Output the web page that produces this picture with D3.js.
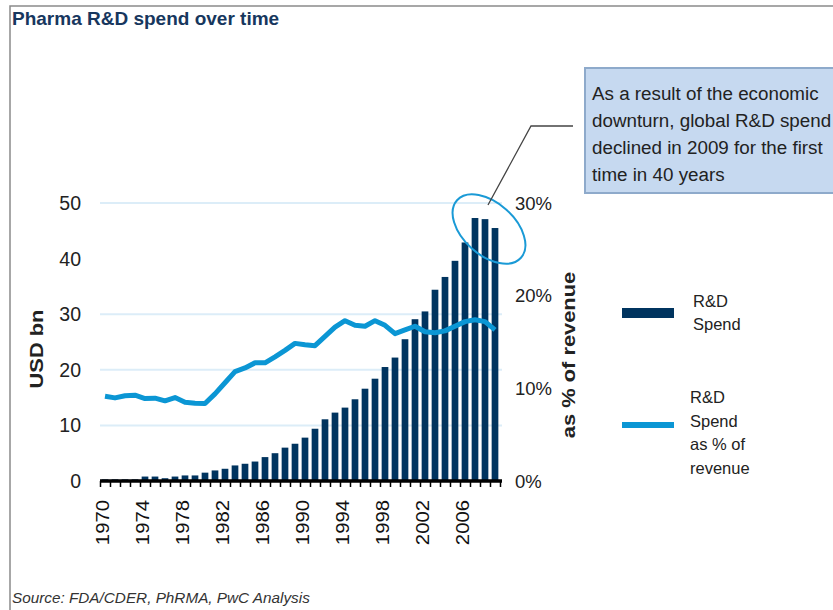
<!DOCTYPE html>
<head>
    <script src="https://d3js.org/d3.v7.min.js"></script>
</head>
<body style="margin:0; background:#fff">
    <svg width="833" height="610"></svg>
    <script>
        var years = [1970, 1971, 1972, 1973, 1974, 1975, 1976, 1977, 1978, 1979,
            1980, 1981, 1982, 1983, 1984, 1985, 1986, 1987, 1988, 1989,
            1990, 1991, 1992, 1993, 1994, 1995, 1996, 1997, 1998, 1999,
            2000, 2001, 2002, 2003, 2004, 2005, 2006, 2007, 2008, 2009];

        // R&D spend, USD bn
        var spend = [0.3, 0.3, 0.3, 0.3, 0.8, 0.8, 0.5, 0.8, 1.0, 1.0,
            1.5, 1.9, 2.2, 2.8, 3.1, 3.5, 4.3, 5.0, 6.0, 6.7,
            7.8, 9.4, 11.1, 12.3, 13.2, 14.7, 16.6, 18.4, 20.5, 22.2,
            25.5, 29.1, 30.5, 34.4, 36.7, 39.6, 42.9, 47.3, 47.1, 45.5];

        // R&D spend as % of revenue
        var pctRevenue = [9.15, 8.97, 9.2, 9.26, 8.9, 8.94, 8.65, 9.0, 8.5, 8.4,
            8.36, 9.4, 10.6, 11.8, 12.2, 12.75, 12.75, 13.4, 14.1, 14.85,
            14.7, 14.6, 15.6, 16.6, 17.3, 16.8, 16.7, 17.3, 16.8, 15.9,
            16.3, 16.7, 16.1, 16.0, 16.2, 16.7, 17.2, 17.4, 17.2, 16.3];

        var yearLabels = [1970, 1974, 1978, 1982, 1986, 1990, 1994, 1998, 2002, 2006];
        var leftTicks = [0, 10, 20, 30, 40, 50];
        var gridTicks = [10, 20, 30, 50];
        var rightTicks = [0, 10, 20, 30];

        var noteLines = ["As a result of the economic", "downturn, global R&D spend",
            "declined in 2009 for the first", "time in 40 years"];

        var NAVY = "#00345f",
            BLUE = "#0b96d4",
            FONT = "Liberation Sans, Arial, sans-serif";

        var svg = d3.select("svg").style("font-family", FONT);

        var x = d3.scaleBand().domain(years).range([100, 500])
            .paddingInner(0.33).paddingOuter(0.165);
        var xEdge = d3.scaleLinear().domain([1970, 2010]).range([100, 500]);
        var yL = d3.scaleLinear().domain([0, 50]).range([481, 203]);
        var yR = d3.scaleLinear().domain([0, 30]).range([481, 203]);

        // frame
        svg.append("path")
            .attr("d", "M10,610V6H833")
            .attr("fill", "none")
            .attr("stroke", "#8a8a8a")
            .attr("stroke-width", 1.5);

        svg.append("text")
            .attr("x", 12).attr("y", 25)
            .attr("fill", "#17375e")
            .attr("font-weight", "bold")
            .attr("font-size", 19)
            .text("Pharma R&D spend over time");

        // grid
        svg.append("g").selectAll("line")
            .data(gridTicks)
            .enter().append("line")
            .attr("x1", 100).attr("x2", 502)
            .attr("y1", function(d) { return yL(d); })
            .attr("y2", function(d) { return yL(d); })
            .attr("stroke", "#dcedf8")
            .attr("stroke-width", 2);

        // bars
        svg.append("g").selectAll("rect")
            .data(years)
            .enter().append("rect")
            .attr("x", function(d) { return x(d); })
            .attr("width", x.bandwidth())
            .attr("y", function(d, i) { return yL(spend[i]); })
            .attr("height", function(d, i) { return yL(0) - yL(spend[i]); })
            .attr("fill", NAVY);

        // % of revenue line
        var line = d3.line()
            .x(function(d) { return x(d) + x.bandwidth() / 2; })
            .y(function(d, i) { return yR(pctRevenue[i]); });

        svg.append("path")
            .datum(years)
            .attr("d", line)
            .attr("fill", "none")
            .attr("stroke", BLUE)
            .attr("stroke-width", 5)
            .attr("stroke-linejoin", "round");

        // bottom axis with a tick per year
        var xAxis = svg.append("g")
            .attr("transform", "translate(0," + yL(0) + ")")
            .call(d3.axisBottom(xEdge)
                .tickValues(d3.range(1970, 2011))
                .tickSize(6)
                .tickSizeOuter(0)
                .tickFormat(""));
        xAxis.select(".domain")
            .attr("d", "M100,0H502")
            .attr("stroke", "#000")
            .attr("stroke-width", 3.5);
        xAxis.selectAll(".tick line").attr("stroke", "#000").attr("stroke-width", 1.5);

        svg.append("g").selectAll("text")
            .data(yearLabels)
            .enter().append("text")
            .attr("transform", function(d) {
                return "translate(" + (x(d) + x.bandwidth() / 2 - 2) + ",500) rotate(-90) scale(1.16,1)";
            })
            .attr("dy", "0.36em")
            .attr("text-anchor", "end")
            .attr("font-size", 17.5)
            .attr("fill", "#111")
            .text(function(d) { return d; });

        // left axis
        svg.append("g").selectAll("text")
            .data(leftTicks)
            .enter().append("text")
            .attr("x", 81)
            .attr("y", function(d) { return yL(d); })
            .attr("dy", "0.36em")
            .attr("text-anchor", "end")
            .attr("font-size", 19.5)
            .attr("fill", "#222")
            .text(function(d) { return d; });

        svg.append("text")
            .attr("transform", "translate(36,349) rotate(-90) scale(1.15,1)")
            .attr("dy", "0.36em")
            .attr("text-anchor", "middle")
            .attr("font-weight", "bold")
            .attr("font-size", 19)
            .attr("fill", "#222")
            .text("USD bn");

        // right axis
        svg.append("g").selectAll("text")
            .data(rightTicks)
            .enter().append("text")
            .attr("x", 515)
            .attr("y", function(d) { return yR(d); })
            .attr("dy", "0.36em")
            .attr("font-size", 18.5)
            .attr("fill", "#222")
            .text(function(d) { return d + "%"; });

        svg.append("text")
            .attr("transform", "translate(568,355) rotate(-90) scale(1.15,1)")
            .attr("dy", "0.36em")
            .attr("text-anchor", "middle")
            .attr("font-weight", "bold")
            .attr("font-size", 19)
            .attr("fill", "#222")
            .text("as % of revenue");

        // legend
        var legend = svg.append("g").attr("font-size", 16.5).attr("fill", "#222");
        legend.append("rect")
            .attr("x", 622).attr("y", 308).attr("width", 52).attr("height", 10)
            .attr("fill", NAVY);
        legend.append("rect")
            .attr("x", 622).attr("y", 422).attr("width", 52).attr("height", 6)
            .attr("fill", BLUE);
        legend.append("text")
            .selectAll("tspan")
            .data(["R&D", "Spend"])
            .enter().append("tspan")
            .attr("x", 693)
            .attr("y", function(d, i) { return 307 + i * 23; })
            .text(function(d) { return d; });
        legend.append("text")
            .selectAll("tspan")
            .data(["R&D", "Spend", "as % of", "revenue"])
            .enter().append("tspan")
            .attr("x", 690)
            .attr("y", function(d, i) { return 403 + i * 23.5; })
            .text(function(d) { return d; });

        // annotation
        svg.append("ellipse")
            .attr("transform", "translate(489,229) rotate(42)")
            .attr("rx", 43).attr("ry", 26)
            .attr("fill", "none")
            .attr("stroke", "#1a9ad6")
            .attr("stroke-width", 2);

        svg.append("path")
            .attr("d", "M488,205L531,126H573")
            .attr("fill", "none")
            .attr("stroke", "#444")
            .attr("stroke-width", 1.3);

        svg.append("rect")
            .attr("x", 585).attr("y", 68).attr("width", 262).attr("height", 125)
            .attr("fill", "#c6d9f0")
            .attr("stroke", "#8eaacb")
            .attr("stroke-width", 2);

        svg.append("text")
            .attr("font-size", 18.8)
            .attr("fill", "#222")
            .selectAll("tspan")
            .data(noteLines)
            .enter().append("tspan")
            .attr("x", 592)
            .attr("y", function(d, i) { return 100 + i * 27; })
            .text(function(d) { return d; });

        svg.append("text")
            .attr("x", 12).attr("y", 603)
            .attr("font-size", 15.3)
            .attr("font-style", "italic")
            .attr("fill", "#333")
            .text("Source: FDA/CDER, PhRMA, PwC Analysis");
    </script>
</body>
